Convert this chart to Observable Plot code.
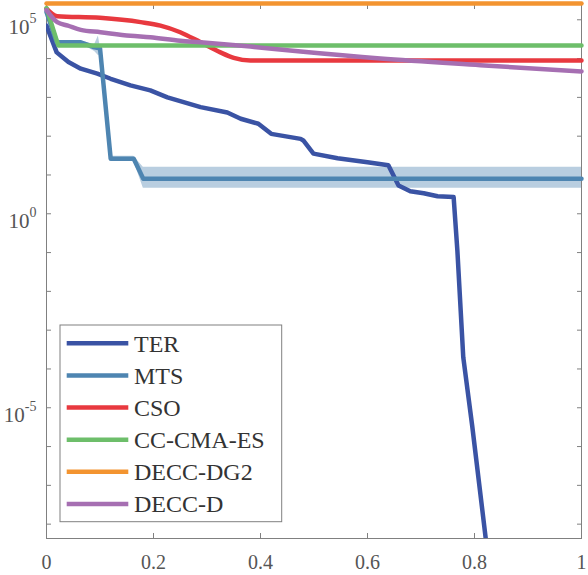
<!DOCTYPE html>
<html>
<head>
<meta charset="utf-8">
<script src="https://cdn.jsdelivr.net/npm/d3@7"></script>
<script src="https://cdn.jsdelivr.net/npm/@observablehq/plot@0.6"></script>
<style>
  html, body { margin: 0; padding: 0; background: #fff; }
  #chart svg { display: block; }
</style>
</head>
<body>
<div id="chart"></div>
<script>
// Convergence curves: best fitness (log10 exponent) against normalised evaluations.
const seriesNames = ["TER", "MTS", "CSO", "CC-CMA-ES", "DECC-DG2", "DECC-D"];
const seriesColors = ["#3a53a4", "#4e85b1", "#e8393f", "#6dbe6a", "#f39430", "#a66fb2"];

const terX = [0, 0.019, 0.041, 0.064, 0.095, 0.12, 0.157, 0.194, 0.226, 0.288, 0.338, 0.363, 0.396, 0.42, 0.475, 0.48, 0.499, 0.544, 0.6, 0.639, 0.658, 0.68, 0.705, 0.731, 0.761, 0.768, 0.779, 0.796, 0.821, 0.826];
const terExp = [4.85, 4.16, 3.91, 3.74, 3.61, 3.48, 3.31, 3.18, 3.0, 2.75, 2.61, 2.45, 2.32, 2.06, 1.93, 1.89, 1.55, 1.43, 1.33, 1.25, 0.73, 0.58, 0.53, 0.45, 0.43, -0.95, -3.7, -5.5, -8.37, -8.8];

const mtsX = [0, 0.019, 0.064, 0.09, 0.097, 0.1, 0.12, 0.163, 0.181, 1];
const mtsExp = [5.2, 4.42, 4.42, 4.29, 4.27, 4.27, 1.42, 1.42, 0.9, 0.9];
const mtsLoExp = [5.2, 4.38, 4.38, 4.18, 4.08, 4.1, 1.36, 1.36, 0.66, 0.66];
const mtsHiExp = [5.2, 4.46, 4.46, 4.36, 4.58, 4.34, 1.48, 1.48, 1.2, 1.2];

const csoX = [0, 0.02, 0.1, 0.176, 0.213, 0.25, 0.288, 0.325, 0.35, 0.381, 0.475, 1];
const csoExp = [5.29, 5.09, 5.05, 4.94, 4.85, 4.68, 4.42, 4.16, 4.02, 3.95, 3.95, 3.95];

const ccX = [0, 0.022, 1];
const ccExp = [5.3, 4.34, 4.34];

const dg2X = [0, 1];
const dg2Exp = [5.42, 5.42];

const dX = [0, 0.02, 0.04, 0.064, 0.101, 0.157, 0.194, 0.25, 0.288, 0.381, 0.475, 0.624, 0.811, 1];
const dExp = [5.25, 4.94, 4.85, 4.74, 4.68, 4.59, 4.55, 4.46, 4.42, 4.31, 4.18, 4.0, 3.83, 3.67];

const xTicks = [0, 0.2, 0.4, 0.6, 0.8, 1];
const yLabelExps = [5, 0, -5];
const yMinorExps = d3.range(-8, 6);
const yDomainExp = [-8.37, 5.42];

const toRows = (xs, es) => xs.map((x, i) => ({x, y: 10 ** es[i]}));
const ter = toRows(terX, terExp);
const mts = toRows(mtsX, mtsExp);
const mtsBand = mtsX.map((x, i) => ({x, lo: 10 ** mtsLoExp[i], hi: 10 ** mtsHiExp[i]}));
const cso = toRows(csoX, csoExp);
const cc = toRows(ccX, ccExp);
const dg2 = toRows(dg2X, dg2Exp);
const decc = toRows(dX, dExp);

const axisGray = "#808080";
const W = 4.5;

const chart = Plot.plot({
  width: 588,
  height: 575,
  marginLeft: 46,
  marginRight: 7,
  marginTop: 3,
  marginBottom: 37,
  style: {fontFamily: "'Liberation Serif', serif", background: "#fff"},
  x: {domain: [0, 1]},
  y: {type: "log", domain: yDomainExp.map(e => 10 ** e)},
  marks: [
    Plot.frame({stroke: axisGray}),
    // inward ticks on all four sides
    Plot.axisX({anchor: "bottom", ticks: xTicks, tickSize: 5, dy: -5, fill: "none", stroke: axisGray, label: null}),
    Plot.axisX({anchor: "top", ticks: xTicks, tickSize: 5, dy: 5, fill: "none", stroke: axisGray, label: null}),
    Plot.axisY({anchor: "left", ticks: yMinorExps.map(e => 10 ** e), tickSize: 5, dx: 5, fill: "none", stroke: axisGray, label: null}),
    Plot.axisY({anchor: "right", ticks: yMinorExps.map(e => 10 ** e), tickSize: 5, dx: -5, fill: "none", stroke: axisGray, label: null}),
    // tick labels
    Plot.axisX({anchor: "bottom", ticks: xTicks, tickSize: 0, tickPadding: 16, tickFormat: d => String(d), fill: "#555", fontSize: 20, label: null}),
    Plot.axisY({anchor: "left", ticks: yLabelExps.map(e => 10 ** e), tickSize: 0, tickPadding: 10,
      tickFormat: d => "10^" + Math.round(Math.log10(d)), fill: "#555", fontSize: 21, label: null,
      lineAnchor: "bottom", dy: 14}),
    // MTS spread band
    Plot.areaY(mtsBand, {x: "x", y1: "lo", y2: "hi", fill: "#b9cee0"}),
    Plot.line(ter, {x: "x", y: "y", stroke: seriesColors[0], strokeWidth: W, clip: true}),
    Plot.line(mts, {x: "x", y: "y", stroke: seriesColors[1], strokeWidth: W}),
    Plot.line(cso, {x: "x", y: "y", stroke: seriesColors[2], strokeWidth: W, curve: "monotone-x"}),
    Plot.line(cc, {x: "x", y: "y", stroke: seriesColors[3], strokeWidth: W}),
    Plot.line(dg2, {x: "x", y: "y", stroke: seriesColors[4], strokeWidth: W}),
    Plot.line(decc, {x: "x", y: "y", stroke: seriesColors[5], strokeWidth: W, curve: "monotone-x"})
  ]
});

// y labels: base 10 with a raised exponent
d3.select(chart).selectAll("text").each(function () {
  const t = this.textContent;
  if (!t.startsWith("10^")) return;
  const sel = d3.select(this);
  sel.text("");
  sel.append("tspan").text("10");
  sel.append("tspan").attr("dy", -10.6).attr("font-size", 14).text(t.slice(3));
});

// legend box
const svg = d3.select(chart);
const lg = svg.append("g")
  .attr("font-family", "'Liberation Serif', serif")
  .attr("text-anchor", "start");
lg.append("rect").attr("x", 60).attr("y", 325).attr("width", 221.7).attr("height", 196.7)
  .attr("fill", "#fff").attr("stroke", axisGray).attr("stroke-width", 1);
seriesNames.forEach((name, i) => {
  const cy = 343.3 + i * 32.13;
  lg.append("line").attr("x1", 66.7).attr("x2", 128.3).attr("y1", cy).attr("y2", cy)
    .attr("stroke", seriesColors[i]).attr("stroke-width", W);
  lg.append("text").attr("x", 134).attr("y", cy + 8.4).attr("font-size", 24)
    .attr("text-anchor", "start").attr("fill", "#333").text(name);
});

document.getElementById("chart").appendChild(chart);
</script>
</body>
</html>
